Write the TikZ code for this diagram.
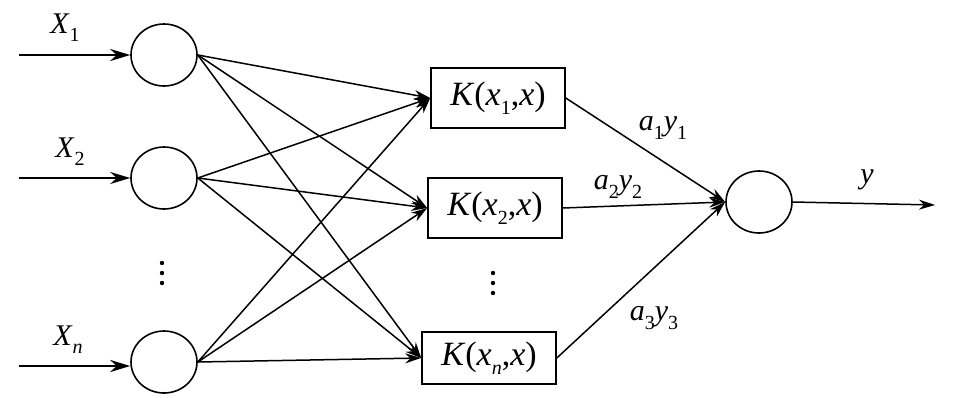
\documentclass[tikz,border=0pt]{standalone}
\usepackage{fontspec}
\setmainfont{Liberation Serif}
\usetikzlibrary{shapes.geometric,arrows.meta}
\newcommand{\mysub}[1]{\raisebox{-0.6ex}{\fontsize{10}{10}\selectfont #1}}
\begin{document}
\begin{tikzpicture}[x=0.5pt,y=-0.5pt,
  neuron/.style={draw,ellipse,line width=0.8pt,minimum width=33pt,minimum height=31pt,inner sep=0pt},
  kbox/.style={draw,rectangle,line width=0.8pt,minimum width=67pt,minimum height=30pt,inner sep=0pt,font=\fontsize{17}{20}\selectfont},
  edge/.style={line width=0.75pt,-{Stealth[length=8pt,width=5pt]}},
  inarrow/.style={-{Stealth[length=10pt,width=6pt]}},
  lab/.style={font=\fontsize{15}{18}\selectfont,inner sep=0pt},
  dotmark/.style={fill=black,draw=none}]
\useasboundingbox (0,0) rectangle (957,397);
% input neurons
\node[neuron] (i1) at (164,55) {};
\node[neuron] (i2) at (164,178) {};
\node[neuron] (in) at (164,362) {};
% kernel boxes
\node[kbox] (b1) at (498,98) {\textit{K}(\textit{x}\mysub{1},\textit{x})};
\node[kbox] (b2) at (495,208) {\textit{K}(\textit{x}\mysub{2},\textit{x})};
\node[kbox,minimum height=26pt] (bn) at (489,358) {\textit{K}(\textit{x}\mysub{\textit{n}},\textit{x})};
% output neuron
\node[neuron] (o) at (759,202) {};
% input arrows
\coordinate (s1) at (19,55);
\coordinate (s2) at (19,178);
\coordinate (s3) at (19,366);
\draw[inarrow,line width=1.4pt] (s1) -- (i1.west);
\draw[inarrow,line width=0.8pt] (s2) -- (i2.west);
\draw[inarrow,line width=1.4pt] (s3) -- (s3 -| in.west);
% labels of inputs
\node[lab] (lx1) at (65,28) {\textit{X}\mysub{1}};
\node[lab] (lx2) at (70,152) {\textit{X}\mysub{2}};
\node[lab] (lxn) at (68,340) {\textit{X}\mysub{\textit{n}}};
% dots
\foreach \yy in {263,273,283}{\fill[dotmark] (162,\yy) circle (1.1pt);}
\foreach \yy in {273,283,293}{\fill[dotmark] (493,\yy) circle (1.1pt);}
% hidden connections
\foreach \s in {i1,i2,in}{
  \foreach \t in {b1,b2,bn}{
    \draw[edge] (\s.east) -- (\t.west);
  }
}
% to output
\draw[edge] (b1.east) -- (o.west);
\draw[edge] (b2.east) -- (o.west);
\draw[edge] (bn.east) -- (o.west);
\node[lab] (la1) at (663,128) {\textit{a}\mysub{1}\textit{y}\mysub{1}};
\node[lab] (la2) at (618,187) {\textit{a}\mysub{2}\textit{y}\mysub{2}};
\node[lab] (la3) at (654,318) {\textit{a}\mysub{3}\textit{y}\mysub{3}};
% output
\coordinate (e) at (935,205);
\draw[edge] (o.east) -- (e);
\node[lab] (ly) at (867,180) {\textit{y}};
\end{tikzpicture}
\end{document}
